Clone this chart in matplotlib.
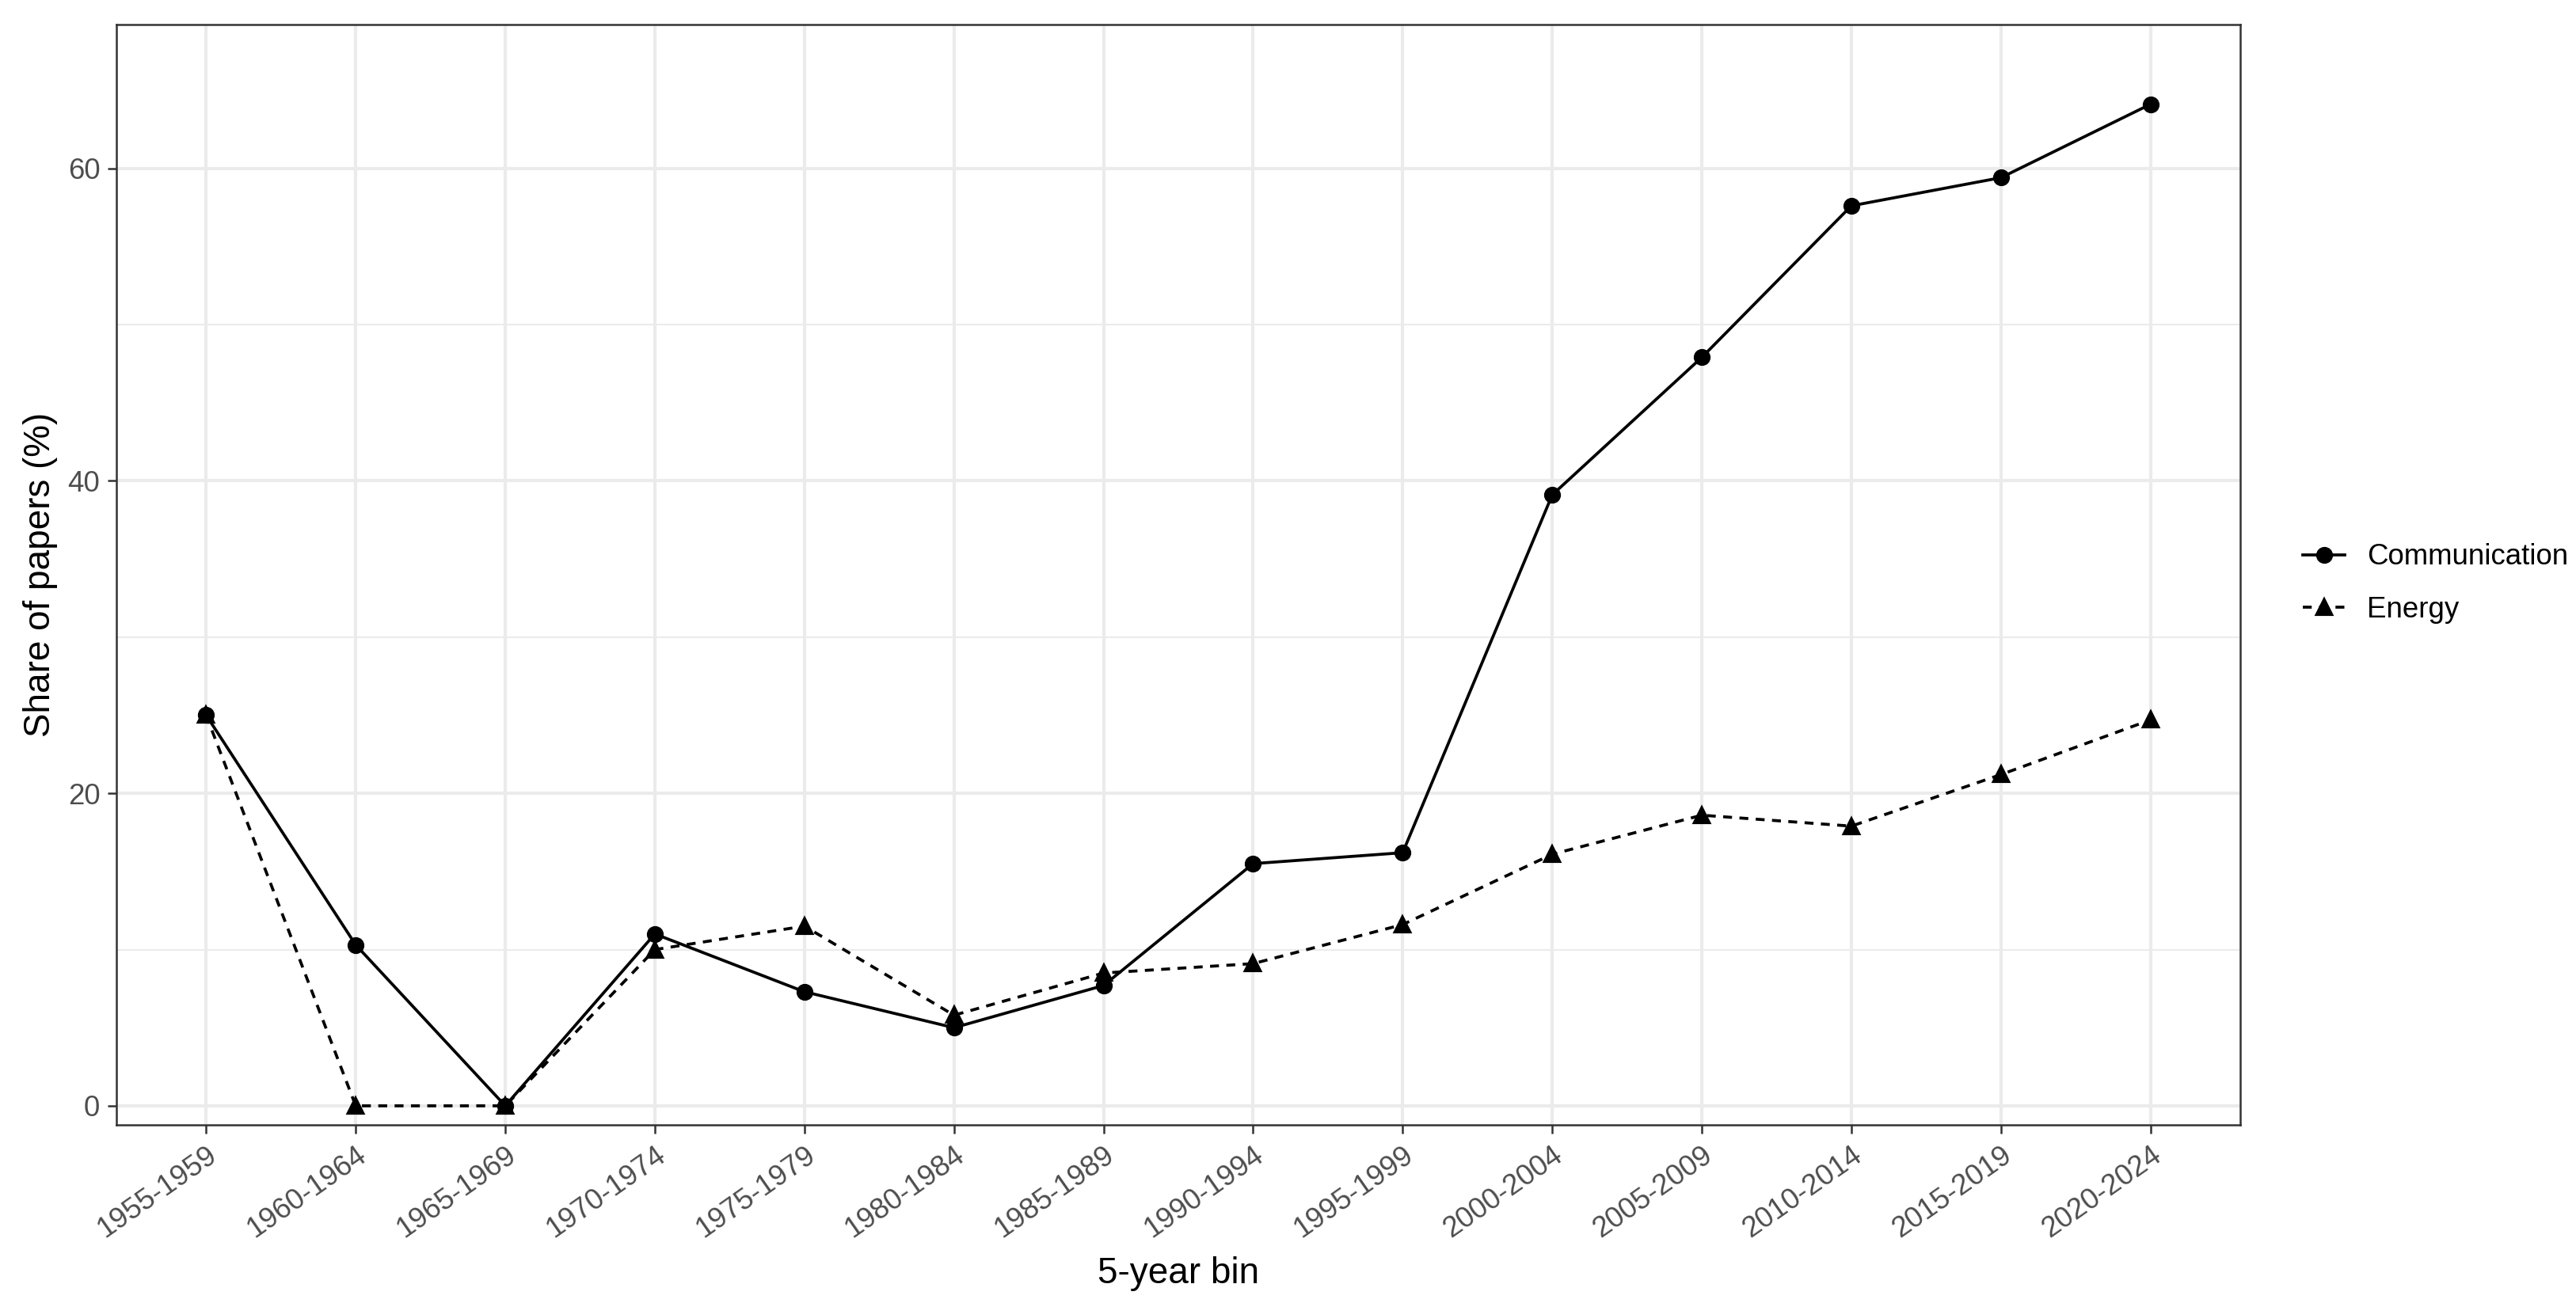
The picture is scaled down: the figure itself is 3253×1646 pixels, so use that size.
import matplotlib
matplotlib.use("Agg")
import matplotlib.pyplot as plt
from matplotlib.ticker import MultipleLocator

plt.rcParams['font.family'] = ['Liberation Sans', 'DejaVu Sans']

bins = ["1955-1959", "1960-1964", "1965-1969", "1970-1974", "1975-1979",
        "1980-1984", "1985-1989", "1990-1994", "1995-1999", "2000-2004",
        "2005-2009", "2010-2014", "2015-2019", "2020-2024"]
communication = [25.0, 10.3, 0.0, 11.0, 7.3, 5.0, 7.7, 15.5, 16.2, 39.1,
                 47.9, 57.6, 59.4, 64.1]
energy = [25.0, 0.0, 0.0, 10.0, 11.5, 5.8, 8.5, 9.1, 11.6, 16.1,
          18.6, 17.9, 21.2, 24.7]
y_ticks = [0, 20, 40, 60]

W, H = 3254, 1646
dpi = 300
fig = plt.figure(figsize=(W / dpi, H / dpi), dpi=dpi)
ax = fig.add_axes([147 / W, 1 - 1421 / H, (2829 - 147) / W, (1421 - 31) / H])

x = list(range(len(bins)))
lc, = ax.plot(x, communication, color='black', lw=0.9, marker='o', ms=4.1,
              label='Communication', zorder=3)
le, = ax.plot(x, energy, color='black', lw=0.9, ls=(0, (3, 2.5)), marker='^',
              ms=4.4, label='Energy', zorder=3)

ax.set_xlim(-0.6, len(bins) - 1 + 0.6)
ax.set_ylim(-1.22, 69.2)
ax.set_xticks(x)
ax.set_xticklabels(bins, rotation=35, ha='right', va='top',
                   rotation_mode='anchor')
ax.set_yticks(y_ticks)
ax.yaxis.set_minor_locator(MultipleLocator(10))

ax.grid(True, which='major', color='#EBEBEB', lw=1.0, zorder=0)
ax.grid(True, which='minor', axis='y', color='#EBEBEB', lw=0.5, zorder=0)
ax.set_axisbelow(True)
ax.tick_params(which='minor', length=0)
ax.tick_params(which='major', length=2.75, width=0.6, color='#333333',
               labelsize=8.8, labelcolor='#4D4D4D', pad=2.2)
for s in ax.spines.values():
    s.set_color('#333333')
    s.set_linewidth(0.6)

ax.set_xlabel('5-year bin', fontsize=11, color='black', labelpad=4)
ax.set_ylabel('Share of papers (%)', fontsize=11, color='black', labelpad=3)

fig.legend(handles=[lc, le], loc='center left',
           bbox_to_anchor=(2890 / W, 1 - 737 / H), frameon=False,
           fontsize=8.8, handlelength=1.45, handletextpad=0.75,
           labelspacing=0.85, borderpad=0)

fig.savefig('out.png', dpi=dpi)
